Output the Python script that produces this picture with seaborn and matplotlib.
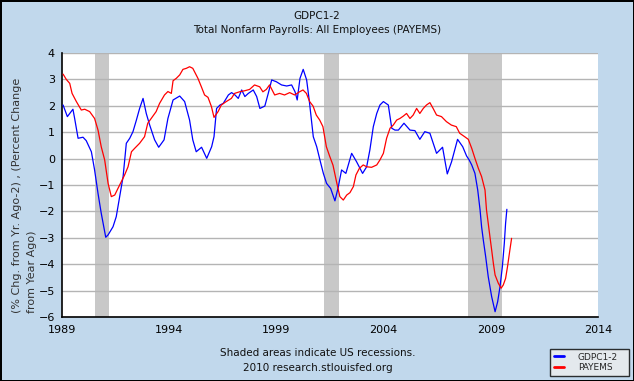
import matplotlib
matplotlib.use("Agg")
import matplotlib.pyplot as plt
import numpy as np
import pandas as pd
import seaborn as sns

# --- data (decimal year, percent) ---
payems_t = [1989.05, 1989.2, 1989.36, 1989.47, 1989.67, 1989.9, 1990.06, 1990.29, 1990.52, 1990.68,
            1990.83, 1990.99, 1991.15, 1991.3, 1991.46, 1991.61, 1991.77, 1991.92, 1992.08, 1992.24,
            1992.39, 1992.62, 1992.85, 1993.0, 1993.16, 1993.39, 1993.55, 1993.78, 1993.94, 1994.1,
            1994.18, 1994.33, 1994.49, 1994.64, 1994.8, 1994.95, 1995.1, 1995.34, 1995.5, 1995.65,
            1995.81, 1995.97, 1996.09, 1996.28, 1996.43, 1996.66, 1996.9, 1997.05, 1997.28, 1997.52,
            1997.75, 1997.98, 1998.22, 1998.37, 1998.53, 1998.68, 1998.92, 1999.15, 1999.38, 1999.62,
            1999.85, 2000.08, 2000.24, 2000.4, 2000.55, 2000.71, 2000.86, 2001.02, 2001.17, 2001.33,
            2001.48, 2001.64, 2001.81, 2001.96, 2002.12, 2002.28, 2002.43, 2002.59, 2002.71, 2002.87,
            2003.05, 2003.21, 2003.44, 2003.68, 2003.83, 2003.99, 2004.14, 2004.3, 2004.45, 2004.61,
            2004.76, 2004.92, 2005.07, 2005.23, 2005.38, 2005.54, 2005.69, 2005.85, 2006.0, 2006.16,
            2006.31, 2006.47, 2006.7, 2006.93, 2007.16, 2007.39, 2007.55, 2007.78, 2007.95, 2008.11,
            2008.26, 2008.42, 2008.57, 2008.73, 2008.8, 2008.88, 2008.96, 2009.04, 2009.12, 2009.2,
            2009.35, 2009.48, 2009.58, 2009.69, 2009.78, 2009.89, 2009.97]
payems_v = [3.2, 3.0, 2.85, 2.47, 2.16, 1.84, 1.87, 1.78, 1.52, 1.08,
            0.45, -0.05, -0.94, -1.44, -1.38, -1.13, -0.87, -0.62, -0.31, 0.26,
            0.39, 0.58, 0.83, 1.34, 1.52, 1.78, 2.09, 2.41, 2.54, 2.47,
            2.95, 3.04, 3.17, 3.38, 3.42, 3.48, 3.42, 3.04, 2.72, 2.41,
            2.32, 1.97, 1.56, 1.78, 2.03, 2.16, 2.28, 2.47, 2.53, 2.57,
            2.62, 2.79, 2.72, 2.53, 2.62, 2.79, 2.41, 2.47, 2.41, 2.5,
            2.41, 2.53, 2.6, 2.47, 2.16, 1.99, 1.65, 1.46, 1.21, 0.45,
            0.1, -0.25, -0.9, -1.44, -1.57, -1.38, -1.29, -1.06, -0.62, -0.37,
            -0.24, -0.31, -0.33, -0.24, -0.05, 0.2, 0.77, 1.15, 1.27, 1.46,
            1.52, 1.61, 1.71, 1.52, 1.65, 1.9, 1.71, 1.9, 2.03, 2.12,
            1.9, 1.65, 1.59, 1.4, 1.27, 1.21, 0.96, 0.83, 0.73, 0.39,
            0.01, -0.37, -0.68, -1.19, -1.95, -2.45, -2.96, -3.46, -3.97, -4.41,
            -4.72, -4.91, -4.79, -4.54, -4.09, -3.46, -3.02]

gdp_t = [1989.05, 1989.25, 1989.51, 1989.59, 1989.75, 1989.98, 1990.13, 1990.37, 1990.52, 1990.68,
         1990.83, 1991.04, 1991.15, 1991.38, 1991.53, 1991.69, 1991.85, 1992.0, 1992.16, 1992.31,
         1992.47, 1992.62, 1992.78, 1992.93, 1993.09, 1993.32, 1993.51, 1993.76, 1993.94, 1994.18,
         1994.49, 1994.72, 1994.95, 1995.1, 1995.26, 1995.51, 1995.75, 1995.98, 1996.09, 1996.21,
         1996.37, 1996.52, 1996.76, 1996.91, 1997.07, 1997.22, 1997.38, 1997.53, 1997.69, 1997.92,
         1998.08, 1998.23, 1998.46, 1998.62, 1998.78, 1999.0, 1999.24, 1999.48, 1999.71, 1999.87,
         1999.97, 2000.1, 2000.25, 2000.41, 2000.53, 2000.72, 2000.88, 2001.03, 2001.19, 2001.34,
         2001.53, 2001.73, 2001.89, 2002.04, 2002.24, 2002.51, 2002.74, 2003.02, 2003.21, 2003.36,
         2003.52, 2003.68, 2003.83, 2003.99, 2004.22, 2004.38, 2004.53, 2004.69, 2004.95, 2005.23,
         2005.46, 2005.69, 2005.92, 2006.16, 2006.47, 2006.75, 2006.97, 2007.17, 2007.45, 2007.69,
         2007.87, 2007.99, 2008.11, 2008.26, 2008.39, 2008.5, 2008.57, 2008.65, 2008.76, 2008.88,
         2009.04, 2009.2, 2009.32, 2009.43, 2009.54, 2009.63, 2009.69, 2009.75]
gdp_v = [2.03, 1.59, 1.87, 1.52, 0.77, 0.81, 0.68, 0.26, -0.43, -1.32,
         -2.07, -2.98, -2.89, -2.58, -2.2, -1.44, -0.68, 0.58, 0.77, 1.02,
         1.46, 1.9, 2.28, 1.71, 1.27, 0.71, 0.43, 0.71, 1.52, 2.22,
         2.37, 2.16, 1.46, 0.71, 0.26, 0.43, 0.01, 0.45, 0.83, 1.9,
         2.03, 2.09, 2.41, 2.5, 2.41, 2.28, 2.6, 2.35, 2.47, 2.6,
         2.35, 1.9, 1.99, 2.47, 2.98, 2.91, 2.79, 2.75, 2.79, 2.53,
         2.22, 3.04, 3.38, 2.98, 2.22, 0.83, 0.45, -0.05, -0.56, -0.94,
         -1.13, -1.6, -1.06, -0.43, -0.56, 0.2, -0.12, -0.56, -0.31, 0.33,
         1.21, 1.71, 2.03, 2.16, 2.03, 1.15, 1.08, 1.08, 1.34, 1.08,
         1.06, 0.73, 1.02, 0.96, 0.2, 0.43, -0.58, -0.12, 0.73, 0.45,
         0.1, -0.05, -0.24, -0.56, -1.19, -1.95, -2.58, -3.08, -3.71, -4.47,
         -5.23, -5.8, -5.42, -4.85, -4.09, -3.21, -2.45, -1.92]

recessions = [(1990.55, 1991.2), (2001.2, 2001.9), (2007.92, 2009.5)]
x_ticks = [1989, 1994, 1999, 2004, 2009, 2014]
y_ticks = list(range(-6, 5))

BG = "#C1D8EC"

df = pd.concat([
    pd.DataFrame({"date": gdp_t, "value": gdp_v, "series": "GDPC1-2"}),
    pd.DataFrame({"date": payems_t, "value": payems_v, "series": "PAYEMS"}),
])

sns.set_style("white")
plt.rcParams["font.family"] = ["DejaVu Sans"]

fig = plt.figure(figsize=(6.34, 3.81), dpi=100, facecolor=BG)
fig.patch.set_edgecolor("black")
fig.patch.set_linewidth(2)
ax = fig.add_axes([62 / 634, 64 / 381, 536 / 634, 264 / 381])

for start, end in recessions:
    ax.axvspan(start, end, color="#C8C8C8", lw=0, zorder=0)

sns.lineplot(data=df, x="date", y="value", hue="series",
             palette={"GDPC1-2": "#0000FF", "PAYEMS": "#FF0000"},
             linewidth=0.9, ax=ax, legend=False, sort=False, zorder=3)

ax.set_xlim(1989, 2014)
ax.set_ylim(-6, 4)
ax.set_xticks(x_ticks)
ax.set_yticks(y_ticks)
ax.yaxis.grid(True, color="#B4B4B4", linewidth=1, zorder=1)
ax.set_axisbelow(True)
ax.set_xlabel("")
ax.set_ylabel("")
ax.tick_params(axis="both", direction="in", length=4, width=1, color="black",
               labelsize=8, labelcolor="black")
ax.tick_params(axis="x", pad=6)
ax.tick_params(axis="y", pad=5)
for side in ["top", "right"]:
    ax.spines[side].set_visible(False)
for side in ["left", "bottom"]:
    ax.spines[side].set_color("black")
    ax.spines[side].set_linewidth(1.2)

fig.text(0.5, 1 - 16 / 381, "GDPC1-2", ha="center", va="center", fontsize=7.5, color="#111111")
fig.text(0.5, 1 - 30 / 381, "Total Nonfarm Payrolls: All Employees (PAYEMS)",
         ha="center", va="center", fontsize=7.5, color="#111111")

fig.text(17 / 634, 1 - 313 / 381, "(% Chg. from Yr. Ago-2) , (Percent Change",
         rotation=90, ha="center", va="bottom", fontsize=8, color="#333333")
fig.text(32 / 634, 1 - 313 / 381, "from Year Ago)",
         rotation=90, ha="center", va="bottom", fontsize=8, color="#333333")

fig.text(318 / 634, 1 - 353 / 381, "Shaded areas indicate US recessions.",
         ha="center", va="center", fontsize=7.5, color="#111111")
fig.text(318 / 634, 1 - 368 / 381, "2010 research.stlouisfed.org",
         ha="center", va="center", fontsize=7.5, color="#111111")

handles = [plt.Line2D([], [], color="#0000FF", lw=2),
           plt.Line2D([], [], color="#FF0000", lw=2)]
leg = fig.legend(handles, ["GDPC1-2", "PAYEMS"], loc="lower left",
                 bbox_to_anchor=(550 / 634, 1 - 376 / 381, 79 / 634, 29 / 381),
                 mode="expand", fontsize=6.5, frameon=True, fancybox=False,
                 handlelength=1.2, handletextpad=1.5, borderpad=0.4,
                 labelspacing=0.2, borderaxespad=0)
leg.get_frame().set_facecolor("#EEEEEE")
leg.get_frame().set_edgecolor("black")
leg.get_frame().set_linewidth(1)

fig.savefig("out.png", dpi=100, facecolor=BG, edgecolor="black")
